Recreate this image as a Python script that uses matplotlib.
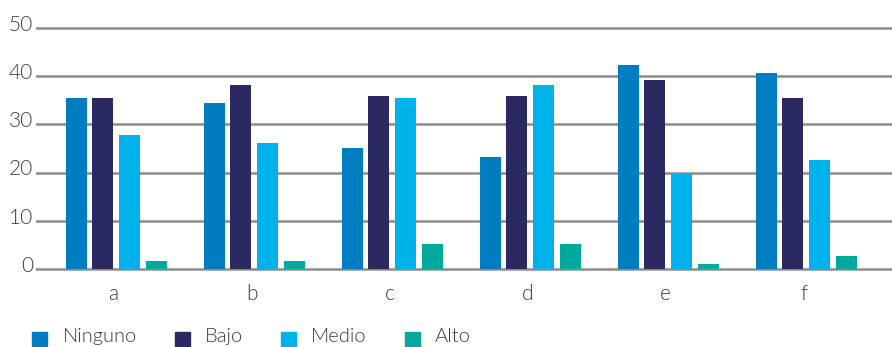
import numpy as np
import matplotlib.pyplot as plt
from matplotlib.patches import Patch
import matplotlib.transforms as mtransforms

# data
categories = ["a", "b", "c", "d", "e", "f"]
series = ["Ninguno", "Bajo", "Medio", "Alto"]
ninguno = [35.5, 34.4, 25.1, 23.2, 42.3, 40.7]
bajo = [35.5, 38.2, 35.9, 35.9, 39.2, 35.5]
medio = [27.8, 26.1, 35.5, 38.2, 19.7, 22.6]
alto = [1.6, 1.6, 5.1, 5.1, 1.0, 2.6]
y_ticks = [0, 10, 20, 30, 40, 50]

colors = ["#007DC1", "#2A2961", "#00B2EB", "#00A99D"]
values = [ninguno, bajo, medio, alto]

plt.rcParams["font.family"] = ["Lato", "DejaVu Sans"]
text_col = "#3c3c3c"
weight = 300  # Lato Light

fig = plt.figure(figsize=(8.92, 3.47), dpi=100)
ax = fig.add_axes([0.040, 0.218, 0.960, 0.708])

x = np.arange(len(categories))
width = 0.152
step = 0.195
for i, (name, vals, col) in enumerate(zip(series, values, colors)):
    ax.bar(x + (i - 1.5) * step + 0.02, vals, width, color=col, label=name, zorder=3)

ax.set_xlim(-0.565, 5.64)
ax.set_ylim(-0.5, 50.5)

# grid lines
ax.set_yticks(y_ticks)
ax.grid(axis="y", color="#8c8c8c", linewidth=1.8, zorder=0)
ax.set_axisbelow(True)
for s in ax.spines.values():
    s.set_visible(False)

# y tick labels sit just above the grid lines, left of them
ax.tick_params(axis="y", length=0, pad=2, labelsize=15, labelcolor=text_col)
offset = mtransforms.ScaledTranslation(0, -2 / 72, fig.dpi_scale_trans)
for lab in ax.get_yticklabels():
    lab.set_verticalalignment("baseline")
    lab.set_fontweight(weight)
    lab.set_transform(lab.get_transform() + offset)

ax.set_xticks(x)
ax.set_xticklabels(categories, fontweight=weight)
ax.tick_params(axis="x", length=0, pad=9, labelsize=15, labelcolor=text_col)

handles = [Patch(color=c) for c in colors]
leg = fig.legend(handles, series, loc="lower left", bbox_to_anchor=(0.016, -0.058),
                 ncol=4, frameon=False, fontsize=14.5, handlelength=0.74,
                 handleheight=0.74, handletextpad=0.75, columnspacing=1.9)
for t in leg.get_texts():
    t.set_color(text_col)
    t.set_fontweight(weight)
    t.set_transform(t.get_transform() + mtransforms.ScaledTranslation(0, 3 / 72, fig.dpi_scale_trans))

fig.savefig("out.png", dpi=100)
